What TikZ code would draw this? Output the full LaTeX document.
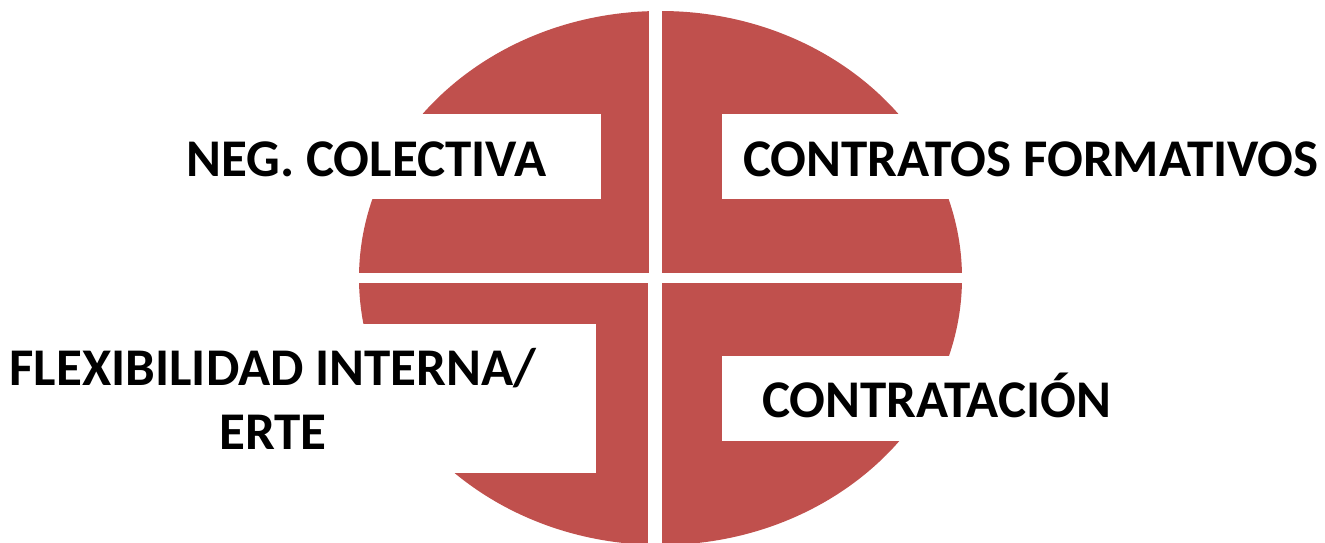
\documentclass[tikz,border=0pt]{standalone}
\usepackage{fontspec}
\setmainfont{Carlito}
\definecolor{segred}{HTML}{C0504D}
\begin{document}
\begin{tikzpicture}[x=1bp,y=-1bp,
  lbl/.style={inner sep=0pt, font=\fontsize{53bp}{64bp}\selectfont\bfseries, text=black},
  cut/.style={fill=white, draw=none}]
\useasboundingbox (0,0) rectangle (1325,543);
% disc
\fill[segred] (660.5,278) ellipse [x radius=301.5, y radius=267];
% gaps between the quadrants
\fill[white] (649,0) rectangle (662,278);
\fill[white] (648,278) rectangle (662,545);
\fill[white] (340,273) rectangle (980,283);
% white cut-outs for the labels
\fill[white] (340,114) rectangle (601,199);
\fill[white] (722,114) rectangle (980,199);
\fill[white] (340,324) rectangle (596,473);
\fill[white] (722,356) rectangle (980,441);
% labels
\node[lbl, anchor=base west] (neg) at (186,177) {NEG. COLECTIVA};
\node[lbl, anchor=base west] (form) at (743,177) {CONTRATOS FORMATIVOS};
\node[lbl, anchor=base, align=center] (flex) at (273,449) {FLEXIBILIDAD INTERNA/\\ERTE};
\node[lbl, anchor=base west] (contr) at (762,417) {CONTRATACIÓN};
\end{tikzpicture}
\end{document}
